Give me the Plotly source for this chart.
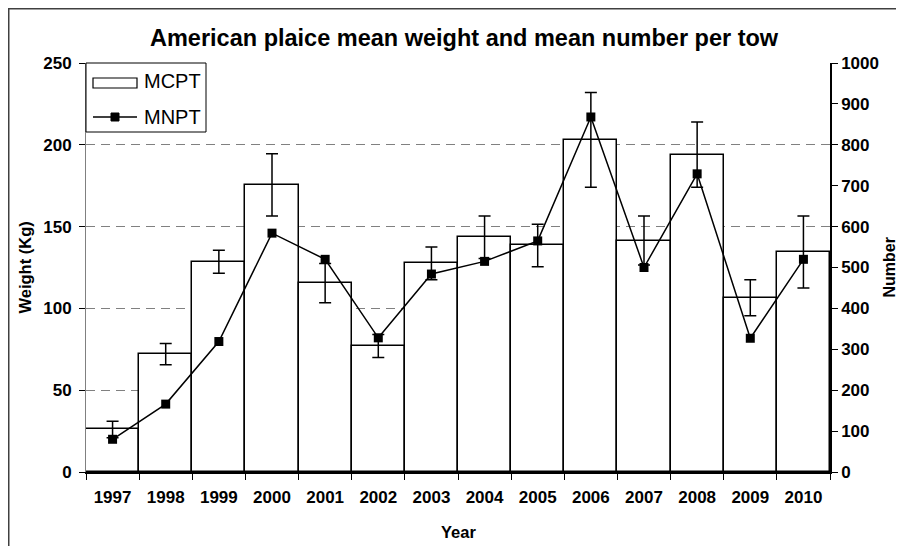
import plotly.graph_objects as go

years = ["1997", "1998", "1999", "2000", "2001", "2002", "2003", "2004", "2005", "2006", "2007", "2008", "2009", "2010"]
mcpt = [26, 72, 128.5, 175.5, 115.5, 77, 127.5, 143.5, 138.5, 203, 141.5, 194, 106.5, 134.5]
mcpt_err = [5, 6.5, 7, 19, 12, 7, 10, 13, 13, 29, 15, 20, 11, 22]
mnpt = [80, 166, 319, 584, 520, 328, 484, 515, 565, 868, 500, 729, 327, 520]

FONT = "Arial, Liberation Sans, sans-serif"

# plot area in figure pixels (page body adds an 8px offset)
W, H = 888, 538
L, T, PW, PH = 78, 55, 744, 409


def px(x):
    return (x - 8 - L) / PW


def py(y):
    return (T + PH - (y - 8)) / PH


fig = go.Figure()
fig.add_trace(go.Bar(
    x=years, y=mcpt, name="MCPT",
    marker=dict(color="white", line=dict(color="black", width=1.5)),
    error_y=dict(type="data", array=mcpt_err, visible=True, color="black", thickness=1.5, width=6),
    yaxis="y", showlegend=False,
))
fig.add_trace(go.Scatter(
    x=years, y=mnpt, name="MNPT", mode="lines+markers",
    line=dict(color="black", width=1.5),
    marker=dict(symbol="square", size=9, color="black"),
    yaxis="y2", showlegend=False,
))

tickfont = dict(size=17, weight="bold", family=FONT, color="black")

fig.update_layout(
    width=W, height=H,
    margin=dict(l=L, r=W - L - PW, t=T, b=H - T - PH),
    paper_bgcolor="white", plot_bgcolor="white",
    font=dict(family=FONT, color="black"),
    bargap=0,
    showlegend=False,
    xaxis=dict(type="category", range=[-0.5, 13.5], autorange=False,
               showline=True, linecolor="black", linewidth=1.5,
               ticks="outside", tickson="boundaries", ticklen=6, tickcolor="black",
               tickfont=tickfont, ticklabelstandoff=9, showgrid=False),
    yaxis=dict(range=[0, 250], dtick=50, showline=True, linecolor="#808080", linewidth=1,
               ticks="outside", ticklen=6, tickcolor="black", ticklabelstandoff=4,
               tickfont=tickfont,
               showgrid=True, gridcolor="#808080", gridwidth=1, griddash="9px,6px",
               zeroline=False),
    yaxis2=dict(range=[0, 1000], dtick=100, overlaying="y", side="right",
                showline=True, linecolor="black", linewidth=1.5,
                ticks="outside", ticklen=6, tickcolor="black",
                tickfont=tickfont, showgrid=False, zeroline=False),
    annotations=[
        dict(text="<b>American plaice mean weight and mean number per tow</b>",
             xref="paper", yref="paper", x=px(464), y=py(38), showarrow=False,
             font=dict(size=23.5, family=FONT), xanchor="center", yanchor="middle"),
        dict(text="<b>Weight (Kg)</b>", xref="paper", yref="paper", x=px(24), y=0.5,
             textangle=-90, showarrow=False, font=dict(size=16.5, family=FONT),
             xanchor="center", yanchor="middle"),
        dict(text="<b>Number</b>", xref="paper", yref="paper", x=px(889), y=0.5,
             textangle=-90, showarrow=False, font=dict(size=16, family=FONT),
             xanchor="center", yanchor="middle"),
        dict(text="<b>Year</b>", xref="paper", yref="paper", x=0.5, y=py(532),
             showarrow=False, font=dict(size=16.5, family=FONT),
             xanchor="center", yanchor="middle"),
        # legend texts
        dict(text="MCPT", xref="paper", yref="paper", x=px(142), y=py(81),
             showarrow=False, font=dict(size=20, family=FONT),
             xanchor="left", yanchor="middle"),
        dict(text="MNPT", xref="paper", yref="paper", x=px(142), y=py(117),
             showarrow=False, font=dict(size=20, family=FONT),
             xanchor="left", yanchor="middle"),
    ],
    shapes=[
        # outer chart border
        dict(type="rect", xref="paper", yref="paper",
             x0=px(8.75), x1=px(930), y0=py(580), y1=py(8.75),
             line=dict(color="#404040", width=1.5), fillcolor="rgba(0,0,0,0)", layer="below"),
        # legend box
        dict(type="rect", xref="paper", yref="paper",
             x0=px(86), x1=px(206), y0=py(132), y1=py(63),
             line=dict(color="black", width=1), fillcolor="white", layer="above"),
        # legend bar symbol
        dict(type="rect", xref="paper", yref="paper",
             x0=px(93), x1=px(137), y0=py(88), y1=py(78),
             line=dict(color="black", width=1.2), fillcolor="white", layer="above"),
        # legend line symbol
        dict(type="line", xref="paper", yref="paper",
             x0=px(93), x1=px(137), y0=py(117), y1=py(117),
             line=dict(color="black", width=1.5), layer="above"),
        dict(type="rect", xref="paper", yref="paper",
             x0=px(111), x1=px(119), y0=py(121), y1=py(113),
             line=dict(color="black", width=1), fillcolor="black", layer="above"),
    ],
)

fig.write_html("out.html")
